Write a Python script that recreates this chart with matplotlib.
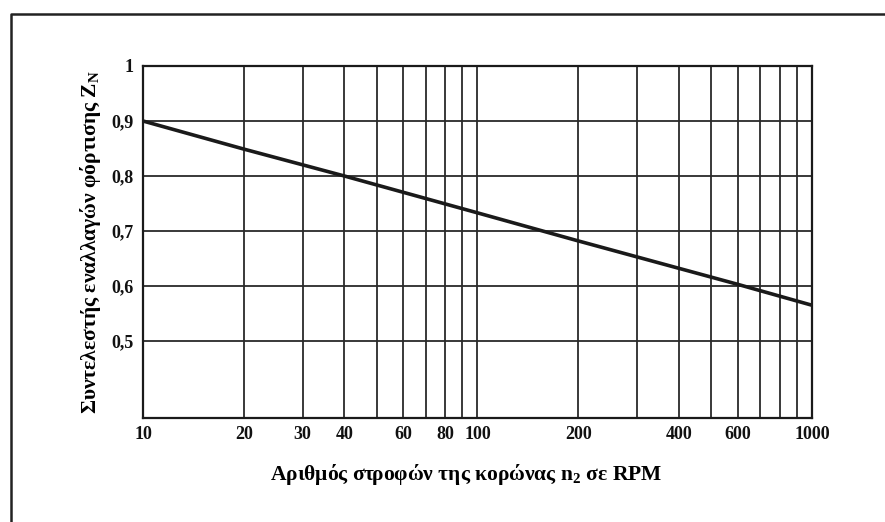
import matplotlib
matplotlib.use("Agg")
import matplotlib.pyplot as plt
from matplotlib.lines import Line2D
from matplotlib.ticker import FixedLocator, FixedFormatter, NullLocator

# values (log x)
rpm = [10, 20, 40, 100, 200, 600, 1000]
zn = [0.90, 0.849, 0.80, 0.733, 0.682, 0.603, 0.565]

grid_x = [10, 20, 30, 40, 50, 60, 70, 80, 90, 100,
          200, 300, 400, 500, 600, 700, 800, 900, 1000]
xlabels_shown = [10, 20, 30, 40, 60, 80, 100, 200, 400, 600, 1000]
yticks = [0.5, 0.6, 0.7, 0.8, 0.9, 1.0]
ylabels = ["0,5", "0,6", "0,7", "0,8", "0,9", "1"]

plt.rcParams["font.family"] = ["Liberation Serif", "DejaVu Serif"]
plt.rcParams["font.weight"] = "bold"
plt.rcParams["mathtext.fontset"] = "custom"
plt.rcParams["mathtext.rm"] = "Liberation Serif:bold"
plt.rcParams["mathtext.it"] = "Liberation Serif:bold"

fig = plt.figure(figsize=(8.85, 5.22), dpi=100)
ax = fig.add_axes([143 / 885, 1 - 418 / 522, 669 / 885, 352 / 522])

ax.set_xscale("log")
ax.set_xlim(10, 1000)
ax.set_ylim(0.36, 1.0)

ax.plot(rpm, zn, color="#1a1a1a", lw=2.6, solid_capstyle="butt", zorder=3)

ax.xaxis.set_major_locator(FixedLocator(grid_x))
ax.xaxis.set_major_formatter(FixedFormatter(
    [str(v) if v in xlabels_shown else "" for v in grid_x]))
ax.xaxis.set_minor_locator(NullLocator())
ax.yaxis.set_major_locator(FixedLocator(yticks))
ax.yaxis.set_major_formatter(FixedFormatter(ylabels))

ax.grid(True, color="#2a2a2a", lw=1.3)
ax.tick_params(length=0, labelsize=13, colors="#111111")
ax.tick_params(axis="x", pad=6)
ax.tick_params(axis="y", pad=7)
for s in ax.spines.values():
    s.set_color("#1a1a1a")
    s.set_linewidth(1.6)

ax.set_xlabel("Αριθμός στροφών της κορώνας $\\mathrm{n_2}$ σε RPM",
              fontsize=15.5, fontweight="bold")
ax.xaxis.set_label_coords(0.483, -0.125)
ax.set_ylabel("Συντελεστής εναλλαγών φόρτισης $\\mathrm{Z_N}$",
              fontsize=15.5, fontweight="bold", labelpad=6)

# scanned page frame
fig.add_artist(Line2D([11 / 885, 11 / 885, 1.0], [0.0, 1 - 14 / 522, 1 - 14 / 522],
                      transform=fig.transFigure, color="#222222", lw=1.8))

fig.savefig("out.png", dpi=100)
